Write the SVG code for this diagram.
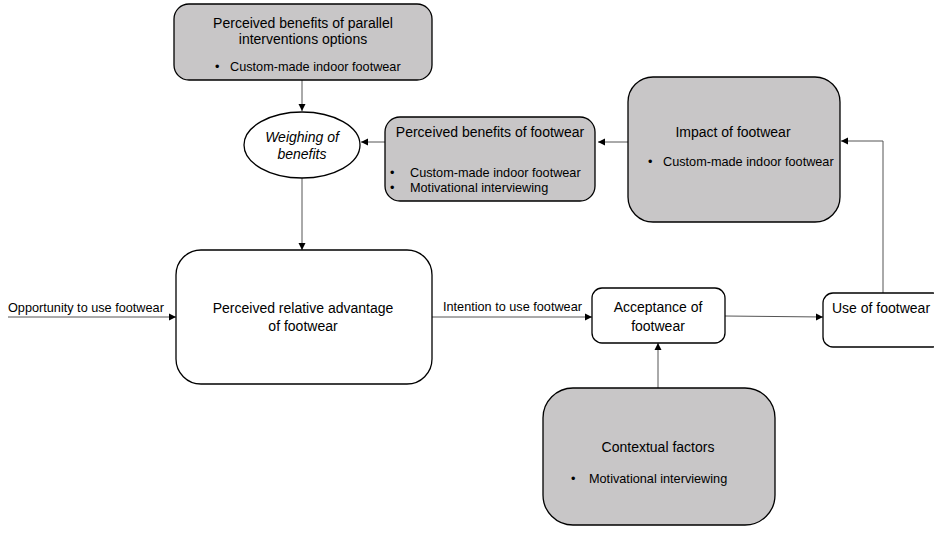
<svg xmlns="http://www.w3.org/2000/svg" width="934" height="536" viewBox="0 0 934 536">
<style>
text{font-family:"Liberation Sans",Arial,sans-serif;fill:#000}
.t{font-size:14px}
.s{font-size:12.7px}
.m{text-anchor:middle}
.g{fill:#c8c6c7;stroke:#000;stroke-width:1.3}
.w{fill:#fff;stroke:#000;stroke-width:1.3}
.c{fill:none;stroke:#555;stroke-width:1}
</style>
<defs>
<marker id="a" markerWidth="8" markerHeight="8" refX="7" refY="4" orient="auto" markerUnits="userSpaceOnUse">
<path d="M0,0.5 L7,4 L0,7.5 Z" fill="#000"/>
</marker>
</defs>
<g id="connectors">
<line class="c" x1="302" y1="80" x2="302" y2="111" marker-end="url(#a)"/>
<line class="c" x1="385" y1="142" x2="361" y2="142" marker-end="url(#a)"/>
<line class="c" x1="628" y1="142" x2="598" y2="142" marker-end="url(#a)"/>
<line class="c" x1="302" y1="178" x2="302" y2="250" marker-end="url(#a)"/>
<line class="c" x1="8" y1="317" x2="176" y2="317" marker-end="url(#a)"/>
<line class="c" x1="432" y1="317" x2="592" y2="317" marker-end="url(#a)"/>
<line class="c" x1="725" y1="316" x2="823" y2="317" marker-end="url(#a)"/>
<line class="c" x1="658" y1="388" x2="658" y2="343" marker-end="url(#a)"/>
<polyline class="c" points="883,293 883,141 841,141" marker-end="url(#a)"/>
</g>
<g id="parallel">
<rect class="g" x="174" y="4" width="258" height="76" rx="15"/>
<text class="t m" x="303" y="28">Perceived benefits of parallel</text>
<text class="t m" x="303" y="44">interventions options</text>
<text class="s" x="215" y="71">•</text>
<text class="s" x="230" y="71">Custom-made indoor footwear</text>
</g>
<g id="weighing">
<ellipse class="w" cx="302" cy="145" rx="58" ry="33"/>
<text class="t m" x="302" y="142" font-style="italic">Weighing of</text>
<text class="t m" x="302" y="159" font-style="italic">benefits</text>
</g>
<g id="benefits">
<rect class="g" x="385" y="117" width="210" height="84" rx="15"/>
<text class="t m" x="490" y="137">Perceived benefits of footwear</text>
<text class="s" x="390" y="177">•</text>
<text class="s" x="410" y="177">Custom-made indoor footwear</text>
<text class="s" x="390" y="192">•</text>
<text class="s" x="410" y="192">Motivational interviewing</text>
</g>
<g id="impact">
<rect class="g" x="628" y="77" width="212" height="145" rx="25"/>
<text class="t m" x="733" y="137">Impact of footwear</text>
<text class="s" x="648" y="166">•</text>
<text class="s" x="663" y="166">Custom-made indoor footwear</text>
</g>
<g id="advantage">
<rect class="w" x="176" y="250" width="256" height="134" rx="25"/>
<text class="t m" x="303" y="313">Perceived relative advantage</text>
<text class="t m" x="303" y="331">of footwear</text>
</g>
<g id="opportunity">
<text class="s" x="8" y="312">Opportunity to use footwear</text>
</g>
<g id="intention">
<text class="s" x="443" y="311">Intention to use footwear</text>
</g>
<g id="acceptance">
<rect class="w" x="592" y="288" width="133" height="55" rx="10"/>
<text class="t m" x="658" y="312">Acceptance of</text>
<text class="t m" x="658" y="331">footwear</text>
</g>
<g id="use">
<rect class="w" x="823" y="293" width="120" height="54" rx="10"/>
<text class="t" x="832" y="313">Use of footwear</text>
</g>
<g id="contextual">
<rect class="g" x="543" y="388" width="232" height="137" rx="30"/>
<text class="t m" x="658" y="452">Contextual factors</text>
<text class="s" x="571" y="483">•</text>
<text class="s" x="589" y="483">Motivational interviewing</text>
</g>
</svg>
